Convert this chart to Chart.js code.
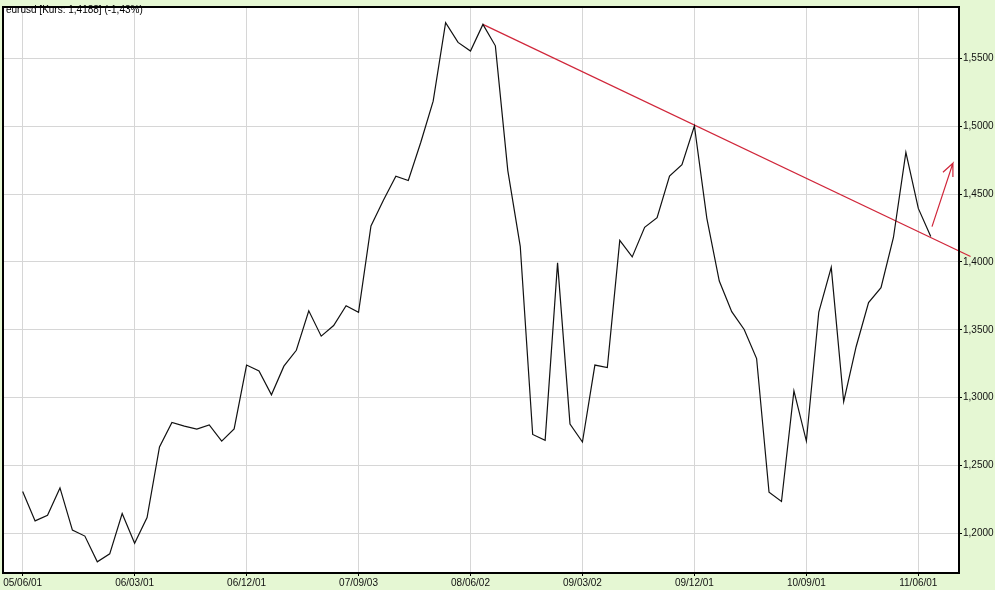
<!DOCTYPE html>
<html>
<head>
<meta charset="utf-8">
<script src="https://cdn.jsdelivr.net/npm/chart.js@4"></script>
<style>
  html, body { margin: 0; padding: 0; background: #e5f7d3; }
  canvas { display: block; }
</style>
</head>
<body>
<canvas id="chart" width="995" height="590"></canvas>
<script>
// monthly closes eurusd, 05/06 .. 11/07
const closes = [
  1.2308, 1.2092, 1.2133, 1.2335, 1.2024, 1.1980, 1.1790, 1.1849, 1.2146, 1.1927,
  1.2117, 1.2637, 1.2817, 1.2790, 1.2768, 1.2799, 1.2680, 1.2770, 1.3240, 1.3196,
  1.3021, 1.3232, 1.3349, 1.3640, 1.3453, 1.3531, 1.3677, 1.3628, 1.4265, 1.4454,
  1.4632, 1.4600, 1.4880, 1.5184, 1.5762, 1.5617, 1.5553, 1.5750, 1.5592, 1.4673,
  1.4115, 1.2729, 1.2685, 1.3993, 1.2806, 1.2673, 1.3240, 1.3222, 1.4158, 1.4037,
  1.4255, 1.4326, 1.4632, 1.4717, 1.5001, 1.4321, 1.3859, 1.3633, 1.3502, 1.3288,
  1.2303, 1.2235, 1.3050, 1.2680, 1.3631, 1.3960, 1.2970, 1.3375, 1.3700, 1.3810,
  1.4180, 1.4807, 1.4394, 1.4188
];

const xTickPos = [0, 9, 18, 27, 36, 45, 54, 63, 72];
const xTickLabels = ['05/06/01', '06/03/01', '06/12/01', '07/09/03', '08/06/02',
                     '09/03/02', '09/12/01', '10/09/01', '11/06/01'];
const yTicks = [1.20, 1.25, 1.30, 1.35, 1.40, 1.45, 1.50, 1.55];

// red resistance line and arrow (month index / price)
const trendX = [37, 76.2];
const trendY = [1.575, 1.404];
const arrowX = [73.1, 74.78, 73.98, 74.78, 74.78];
const arrowY = [1.426, 1.4727, 1.4661, 1.4727, 1.4625];

const title = 'eurusd [Kurs: 1,4188] (-1,43%)';

const toPts = (xs, ys) => xs.map((x, i) => ({ x: x, y: ys[i] }));

const frame = {
  id: 'frame',
  beforeDatasetsDraw(chart) {
    const a = chart.chartArea, c = chart.ctx;
    c.save();
    c.fillStyle = '#ffffff';
    c.globalCompositeOperation = 'destination-over';
    c.fillRect(a.left, a.top, a.right - a.left, a.bottom - a.top);
    c.restore();
  },
  afterDatasetsDraw(chart) {
    const a = chart.chartArea, c = chart.ctx;
    c.save();
    c.strokeStyle = '#000';
    c.lineWidth = 2;
    c.strokeRect(a.left, a.top, a.right - a.left, a.bottom - a.top);
    c.fillStyle = '#000';
    c.font = '10px "Liberation Sans", Arial, sans-serif';
    c.textBaseline = 'middle';
    c.fillText(title, a.left + 3, 10);
    c.restore();
  }
};

new Chart(document.getElementById('chart'), {
  type: 'scatter',
  data: {
    datasets: [{
      data: closes.map((v, i) => ({ x: i, y: v })),
      showLine: true,
      borderColor: '#111',
      borderWidth: 1.2,
      pointRadius: 0,
      tension: 0
    }, {
      data: toPts(trendX, trendY),
      showLine: true,
      borderColor: '#d0263a',
      borderWidth: 1.2,
      pointRadius: 0,
      clip: false
    }, {
      data: toPts(arrowX, arrowY),
      showLine: true,
      borderColor: '#d0263a',
      borderWidth: 1.2,
      pointRadius: 0,
      clip: false
    }]
  },
  options: {
    responsive: false,
    animation: false,
    layout: { padding: { left: 3, top: 1.5, right: 0, bottom: 0 } },
    plugins: { legend: { display: false }, tooltip: { enabled: false } },
    scales: {
      x: {
        type: 'linear',
        min: -1.58,
        max: 75.27,
        afterBuildTicks: s => { s.ticks = xTickPos.map(v => ({ value: v })); },
        afterFit: s => { s.height = 17; },
        border: { display: false },
        grid: { color: '#d6d6d6', tickColor: '#000', tickLength: 3 },
        ticks: {
          padding: 1,
          maxRotation: 0,
          autoSkip: false,
          color: '#111',
          font: { family: '"Liberation Sans", Arial, sans-serif', size: 10 },
          callback: v => xTickLabels[xTickPos.indexOf(v)]
        }
      },
      y: {
        position: 'right',
        min: 1.1708,
        max: 1.5878,
        afterBuildTicks: s => { s.ticks = yTicks.map(v => ({ value: v })); },
        afterFit: s => { s.width = 36; },
        border: { display: false },
        grid: { color: '#d6d6d6', tickColor: '#000', tickLength: 3 },
        ticks: {
          padding: 1,
          color: '#111',
          font: { family: '"Liberation Sans", Arial, sans-serif', size: 10 },
          callback: v => v.toFixed(4).replace('.', ',')
        }
      }
    }
  },
  plugins: [frame]
});
</script>
</body>
</html>
